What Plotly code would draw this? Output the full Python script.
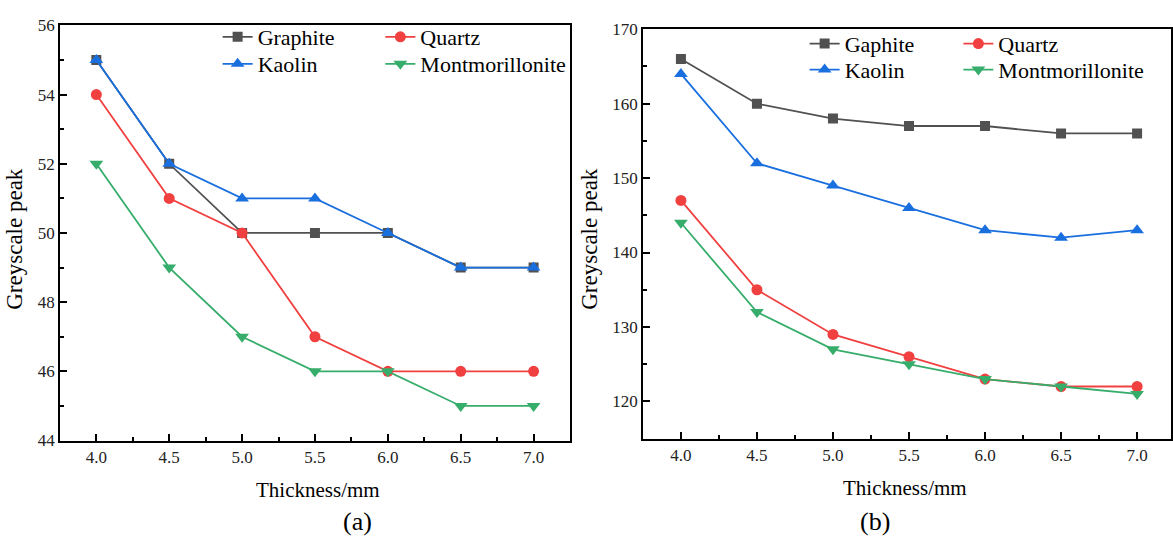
import plotly.graph_objects as go

W, H = 1173, 549

thickness = [4.0, 4.5, 5.0, 5.5, 6.0, 6.5, 7.0]
tick_text = ["4.0", "4.5", "5.0", "5.5", "6.0", "6.5", "7.0"]

# Panel (a)
a_graphite = [55, 52, 50, 50, 50, 49, 49]
a_quartz = [54, 51, 50, 47, 46, 46, 46]
a_kaolin = [55, 52, 51, 51, 50, 49, 49]
a_montmor = [52, 49, 47, 46, 46, 45, 45]

# Panel (b)
b_graphite = [166, 160, 158, 157, 157, 156, 156]
b_quartz = [147, 135, 129, 126, 123, 122, 122]
b_kaolin = [164, 152, 149, 146, 143, 142, 143]
b_montmor = [144, 132, 127, 125, 123, 122, 121]

names_a = ["Graphite", "Quartz", "Kaolin", "Montmorillonite"]
names_b = ["Gaphite", "Quartz", "Kaolin", "Montmorillonite"]
colors = ["#515151", "#F14040", "#1A6FDF", "#37AD6B"]
symbols = ["square", "circle", "triangle-up", "triangle-down"]
msizes = [10, 11, 12, 12]

FONT = "Liberation Serif"

fig = go.Figure()

series_a = [a_graphite, a_quartz, a_kaolin, a_montmor]
series_b = [b_graphite, b_quartz, b_kaolin, b_montmor]

for i in range(4):
    fig.add_trace(go.Scatter(
        x=thickness, y=series_a[i], name=names_a[i], mode="lines+markers",
        line=dict(color=colors[i], width=1.8),
        marker=dict(symbol=symbols[i], size=msizes[i], color=colors[i]),
        xaxis="x", yaxis="y", showlegend=True,
        legend="legend" if i == 0 else "legend%d" % (i + 1)))
for i in range(4):
    fig.add_trace(go.Scatter(
        x=thickness, y=series_b[i], name=names_b[i], mode="lines+markers",
        line=dict(color=colors[i], width=1.8),
        marker=dict(symbol=symbols[i], size=msizes[i], color=colors[i]),
        xaxis="x2", yaxis="y2", showlegend=True, legend="legend%d" % (i + 5)))

def px_x(p):
    return p / W

def px_y(p):
    return 1 - p / H

axis_common = dict(
    showline=True, linecolor="black", linewidth=1.6, mirror=True,
    ticks="inside", ticklen=7, tickwidth=1.5, tickcolor="black",
    showgrid=False, zeroline=False,
    tickfont=dict(family=FONT, size=17, color="#222"),
)
minor_x = dict(ticks="inside", ticklen=4, tickwidth=1.5, tickcolor="black",
               tickvals=[3.75, 4.25, 4.75, 5.25, 5.75, 6.25, 6.75])

fig.update_layout(
    width=W, height=H,
    showlegend=True,
    margin=dict(l=0, r=0, t=0, b=0),
    paper_bgcolor="white", plot_bgcolor="white",
    font=dict(family=FONT, color="black"),
    xaxis=dict(domain=[px_x(60), px_x(571)], anchor="y", range=[3.75, 7.25],
               tickvals=thickness, ticktext=tick_text, minor=minor_x, **axis_common),
    yaxis=dict(domain=[px_y(447), px_y(17)], anchor="x", range=[44, 56], dtick=2,
               minor=dict(ticks="inside", ticklen=4, tickwidth=1.5, tickcolor="black", dtick=1),
               **axis_common),
    xaxis2=dict(domain=[px_x(644), 1.0], anchor="y2", range=[3.75, 7.223],
                tickvals=thickness, ticktext=tick_text, minor=minor_x, **axis_common),
    yaxis2=dict(domain=[px_y(445), px_y(21)], anchor="x2", range=[115, 170], dtick=10,
                minor=dict(ticks="inside", ticklen=4, tickwidth=1.5, tickcolor="black", dtick=5),
                **axis_common),
)

leg_common = dict(orientation="v", xanchor="left", yanchor="middle",
                  bgcolor="rgba(0,0,0,0)", font=dict(family=FONT, size=22, color="black"))
# legend positions (px): Graphite, Quartz, Kaolin, Montmorillonite for each panel
leg_pos = [(218, 29), (381, 29), (218, 57), (381, 57),
           (806, 36), (960, 36), (806, 63), (960, 63)]
leg_layout = {}
for k, (lx, ly) in enumerate(leg_pos):
    key = "legend" if k == 0 else "legend%d" % (k + 1)
    leg_layout[key] = dict(x=px_x(lx), y=px_y(ly), visible=True, **leg_common)
fig.update_layout(**leg_layout)

annots = [
    dict(text="Greyscale peak", x=px_x(15), y=px_y(238), textangle=-90, font_size=23),
    dict(text="Greyscale peak", x=px_x(591), y=px_y(238), textangle=-90, font_size=23),
    dict(text="Thickness/mm", x=px_x(319), y=px_y(498), font_size=21),
    dict(text="Thickness/mm", x=px_x(907), y=px_y(496), font_size=21),
    dict(text="(a)", x=px_x(358), y=px_y(531), font_size=26),
    dict(text="(b)", x=px_x(876), y=px_y(531), font_size=26),
]
for a in annots:
    fig.add_annotation(xref="paper", yref="paper", showarrow=False,
                       xanchor="center", yanchor="middle",
                       text=a["text"], x=a["x"], y=a["y"],
                       textangle=a.get("textangle", 0),
                       font=dict(family=FONT, size=a["font_size"], color="black"))

fig.write_html("out.html")
